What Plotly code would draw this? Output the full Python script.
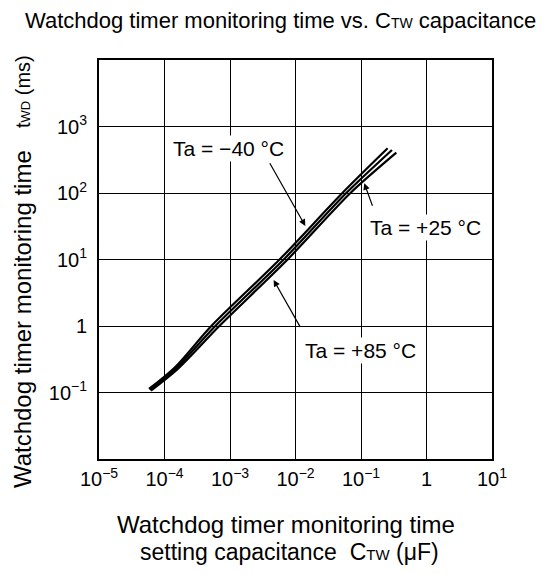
import plotly.graph_objects as go

# ---- data ----
cap_m40 = [5.8e-5, 1.45e-4, 5.19e-4, 5.71e-3, 5.2e-2, 0.255]
t_m40 = [0.113, 0.240, 1.0, 10.0, 100.0, 470.0]

cap_p25 = [6.0e-5, 1.51e-4, 5.97e-4, 6.61e-3, 5.96e-2, 0.297]
t_p25 = [0.110, 0.233, 1.0, 10.0, 100.0, 444.0]

cap_p85 = [6.2e-5, 1.58e-4, 6.87e-4, 7.57e-3, 6.9e-2, 0.346]
t_p85 = [0.107, 0.225, 1.0, 10.0, 100.0, 404.0]

x_tickvals = [1e-5, 1e-4, 1e-3, 1e-2, 1e-1, 1, 10]
x_ticktext = ["10<sup>−5</sup>", "10<sup>−4</sup>", "10<sup>−3</sup>", "10<sup>−2</sup>",
              "10<sup>−1</sup>", "1", "10<sup>1</sup>"]
y_tickvals = [1e-2, 1e-1, 1, 10, 100, 1000, 1e4]
y_ticktext = ["", "10<sup>−1</sup>", "1", "10<sup>1</sup>", "10<sup>2</sup>", "10<sup>3</sup>", ""]

FONT = "Liberation Sans, Arial, sans-serif"

fig = go.Figure()
for xs, ys, name in [(cap_m40, t_m40, "Ta = −40 °C"),
                     (cap_p25, t_p25, "Ta = +25 °C"),
                     (cap_p85, t_p85, "Ta = +85 °C")]:
    fig.add_trace(go.Scatter(x=xs, y=ys, mode="lines", name=name,
                             line=dict(color="black", width=2.2, shape="spline", smoothing=0.8),
                             showlegend=False, hoverinfo="skip"))

axis_common = dict(type="log", showgrid=True, gridcolor="black", gridwidth=1.3,
                   showline=True, linecolor="black", linewidth=2, mirror=True,
                   ticks="", zeroline=False, automargin=False,
                   tickfont=dict(family=FONT, size=20, color="black"))

fig.update_xaxes(range=[-5, 1], tickmode="array", tickvals=x_tickvals,
                 ticktext=x_ticktext, ticklabelstandoff=1, **axis_common)
fig.update_yaxes(range=[-2, 4], tickmode="array", tickvals=y_tickvals,
                 ticktext=y_ticktext, ticklabelstandoff=6, **axis_common)

ann_font = dict(family=FONT, size=21, color="black")
title_font = dict(family=FONT, size=22, color="black")
axis_title_font = dict(family=FONT, size=24, color="black")

annotations = [
    # curve labels with arrows (log10 coordinates)
    dict(x=-1.850, y=1.504, ax=-2.405, ay=2.471, axref="x", ayref="y",
         xref="x", yref="y", showarrow=True, arrowhead=2, arrowsize=1.1,
         arrowwidth=1.2, arrowcolor="black", text=""),
    dict(x=-3.026, y=2.670, xref="x", yref="y", text="Ta = −40 °C",
         showarrow=False, font=ann_font, bgcolor="white"),
    dict(x=-0.950, y=2.146, ax=-0.817, ay=1.785, axref="x", ayref="y",
         xref="x", yref="y", showarrow=True, arrowhead=2, arrowsize=1.1,
         arrowwidth=1.2, arrowcolor="black", text=""),
    dict(x=-0.011, y=1.480, xref="x", yref="y", text="Ta = +25 °C",
         showarrow=False, font=ann_font, bgcolor="white"),
    dict(x=-2.334, y=0.692, ax=-1.916, ay=-0.035, axref="x", ayref="y",
         xref="x", yref="y", showarrow=True, arrowhead=2, arrowsize=1.1,
         arrowwidth=1.2, arrowcolor="black", text=""),
    dict(x=-1.003, y=-0.370, xref="x", yref="y", text="Ta = +85 °C",
         showarrow=False, font=ann_font, bgcolor="white"),
    # chart title
    dict(x=0.463, y=1.100, xref="paper", yref="paper", xanchor="center", yanchor="middle",
         text="Watchdog timer monitoring time vs. C<span style='font-size:14px'>TW</span> capacitance",
         showarrow=False, font=title_font),
    # y axis title
    dict(x=-0.193, y=0.351, xref="paper", yref="paper", xanchor="center", yanchor="middle",
         text="Watchdog timer monitoring time", textangle=-90,
         showarrow=False, font=axis_title_font),
    dict(x=-0.193, y=0.920, xref="paper", yref="paper", xanchor="center", yanchor="middle",
         text="t<span style='font-size:13px'>WD</span> (ms)", textangle=-90,
         showarrow=False, font=dict(family=FONT, size=20, color="black")),
    # x axis title
    dict(x=0.475, y=-0.163, xref="paper", yref="paper", xanchor="center", yanchor="middle",
         text="Watchdog timer monitoring time", showarrow=False, font=axis_title_font),
    dict(x=0.486, y=-0.233, xref="paper", yref="paper", xanchor="center", yanchor="middle",
         text="setting capacitance\u00a0 C<span style='font-size:15px'>TW</span> (μF)",
         showarrow=False, font=dict(family=FONT, size=23, color="black")),
]

# page body has an 8px default margin, so the figure is 8px smaller on each axis
fig.update_layout(
    width=544, height=566,
    margin=dict(l=91, r=60, t=52, b=115, pad=0),
    paper_bgcolor="white", plot_bgcolor="white",
    annotations=annotations,
    showlegend=False,
)

fig.write_html("out.html")
